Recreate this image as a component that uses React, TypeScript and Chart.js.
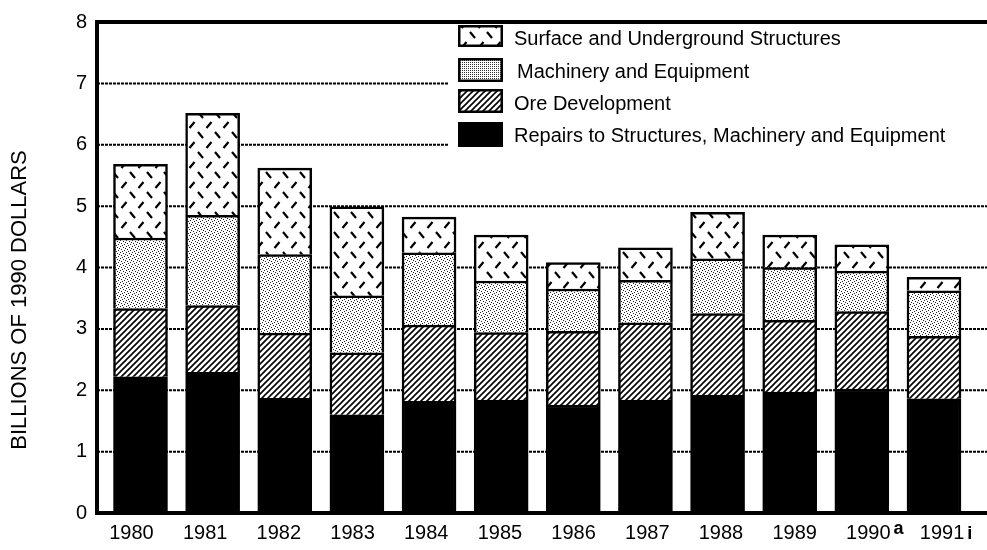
import React, { useEffect, useRef } from 'react';
import { Chart, registerables } from 'chart.js';

Chart.register(...registerables);

const years = ['1980', '1981', '1982', '1983', '1984', '1985', '1986', '1987', '1988', '1989', '1990', '1991'];
const footnotes = ['', '', '', '', '', '', '', '', '', '', 'a', 'i'];

const repairsLabel = 'Repairs to Structures, Machinery and Equipment';
const oreLabel = 'Ore Development';
const machineryLabel = 'Machinery and Equipment';
const surfaceLabel = 'Surface and Underground Structures';

const repairs = [2.22, 2.29, 1.87, 1.6, 1.82, 1.84, 1.76, 1.84, 1.92, 1.97, 2.02, 1.86];
const ore = [1.11, 1.09, 1.06, 1.01, 1.24, 1.1, 1.2, 1.26, 1.33, 1.17, 1.26, 1.02];
const machinery = [1.15, 1.47, 1.28, 0.93, 1.18, 0.84, 0.69, 0.69, 0.89, 0.86, 0.66, 0.74];
const surface = [1.2, 1.66, 1.41, 1.45, 0.58, 0.75, 0.43, 0.53, 0.76, 0.53, 0.43, 0.22];

const yTicks = [0, 1, 2, 3, 4, 5, 6, 7, 8];
const yTitle = 'BILLIONS OF 1990 DOLLARS';

const FONT = '"Liberation Sans", Arial, Helvetica, sans-serif';

function makeTile(w: number, h: number, draw: (g: CanvasRenderingContext2D) => void): CanvasPattern {
  const c = document.createElement('canvas');
  c.width = w;
  c.height = h;
  const g = c.getContext('2d') as CanvasRenderingContext2D;
  draw(g);
  return g.createPattern(c, 'repeat') as CanvasPattern;
}

export default function App() {
  const ref = useRef<HTMLCanvasElement | null>(null);

  useEffect(() => {
    const canvas = ref.current;
    if (!canvas) return;

    const hatch = makeTile(6, 6, (g) => {
      g.fillStyle = '#fff';
      g.fillRect(0, 0, 6, 6);
      g.strokeStyle = '#000';
      g.lineWidth = 1.6;
      g.beginPath();
      g.moveTo(-1, 7);
      g.lineTo(7, -1);
      g.moveTo(-1, 1);
      g.lineTo(1, -1);
      g.moveTo(5, 7);
      g.lineTo(7, 5);
      g.stroke();
    });

    const stipple = makeTile(6, 6, (g) => {
      g.fillStyle = '#fff';
      g.fillRect(0, 0, 6, 6);
      g.fillStyle = '#222';
      [[0, 0], [3, 1], [1, 3], [4, 4], [5, 2], [2, 5]].forEach(([px, py]) => g.fillRect(px, py, 1, 1));
    });

    const stippleDense = makeTile(2, 2, (g) => {
      g.fillStyle = '#fff';
      g.fillRect(0, 0, 2, 2);
      g.fillStyle = '#333';
      g.fillRect(0, 0, 1, 1);
    });

    const diamond = makeTile(17, 20, (g) => {
      g.fillStyle = '#fff';
      g.fillRect(0, 0, 17, 20);
      g.strokeStyle = '#000';
      g.lineWidth = 2.2;
      g.beginPath();
      g.moveTo(2.5, 8);
      g.lineTo(7.5, 2);
      g.moveTo(11, 12);
      g.lineTo(16, 18);
      g.stroke();
    });

    const legendItems = [
      { label: surfaceLabel, fill: diamond, y0: 25, y1: 47, ty: 39, tx: 514 },
      { label: machineryLabel, fill: stippleDense, y0: 58, y1: 82, ty: 72, tx: 517 },
      { label: oreLabel, fill: hatch, y0: 89, y1: 113, ty: 104, tx: 514 },
      { label: repairsLabel, fill: '#000', y0: 122, y1: 147, ty: 136, tx: 514 },
    ];

    const decor = {
      id: 'decor',
      beforeDatasetsDraw(chart: any) {
        const { ctx, chartArea: a, scales } = chart;
        const y = scales.y;
        ctx.save();
        ctx.strokeStyle = '#000';
        ctx.lineWidth = 2;
        ctx.setLineDash([3, 1]);
        yTicks.forEach((v) => {
          if (v === 0 || v === 8) return;
          const py = y.getPixelForValue(v);
          ctx.beginPath();
          ctx.moveTo(a.left, py);
          ctx.lineTo(a.right, py);
          ctx.stroke();
        });
        ctx.restore();

        // legend area
        ctx.save();
        ctx.fillStyle = '#fff';
        ctx.fillRect(448, a.top + 2, a.right - 448, 160 - a.top);
        legendItems.forEach((it) => {
          ctx.fillStyle = it.fill as any;
          ctx.fillRect(458, it.y0, 45, it.y1 - it.y0);
          ctx.strokeStyle = '#000';
          ctx.lineWidth = 2.5;
          ctx.strokeRect(459.25, it.y0 + 1.25, 42.5, it.y1 - it.y0 - 2.5);
          ctx.fillStyle = '#000';
          ctx.font = `20px ${FONT}`;
          ctx.textAlign = 'left';
          ctx.textBaseline = 'middle';
          ctx.fillText(it.label, it.tx, it.ty);
        });
        ctx.restore();
      },
      afterDraw(chart: any) {
        const { ctx, chartArea: a, scales } = chart;
        ctx.save();
        ctx.strokeStyle = '#000';
        ctx.lineWidth = 4;
        ctx.setLineDash([]);
        ctx.beginPath();
        // top border
        ctx.moveTo(a.left - 2, a.top);
        ctx.lineTo(a.right, a.top);
        // left axis
        ctx.moveTo(a.left, a.top - 2);
        ctx.lineTo(a.left, a.bottom + 2);
        // bottom axis
        ctx.moveTo(a.left - 2, a.bottom);
        ctx.lineTo(a.right, a.bottom);
        ctx.stroke();

        // footnote marks on year labels
        const xl = scales.xl;
        years.forEach((yr, i) => {
          const mark = footnotes[i];
          if (!mark) return;
          ctx.font = `20px ${FONT}`;
          const w = ctx.measureText(yr).width;
          const cx = xl.getPixelForValue(i);
          ctx.font = `bold 18px ${FONT}`;
          ctx.fillStyle = '#000';
          ctx.textAlign = 'left';
          ctx.textBaseline = 'alphabetic';
          const base = a.bottom + 8 + 20 * 0.905 + 1;
          ctx.fillText(mark, cx + w / 2 + 3, base - (mark === 'a' ? 6 : 1));
        });

        // y-axis title
        ctx.translate(20, 300);
        ctx.rotate(-Math.PI / 2);
        ctx.font = `22px ${FONT}`;
        ctx.fillStyle = '#000';
        ctx.textAlign = 'center';
        ctx.textBaseline = 'middle';
        ctx.fillText(yTitle, 0, 0);
        ctx.restore();
      },
    };

    const mk = (label: string, values: number[], fill: any) => ({
      label,
      data: values.map((v, i) => ({ x: i, y: v })),
      backgroundColor: fill,
      borderColor: '#000',
      borderWidth: 2.5,
      barThickness: 54,
      xAxisID: 'x',
      yAxisID: 'y',
    });

    const chart = new Chart(canvas, {
      type: 'bar',
      data: {
        datasets: [
          mk(repairsLabel, repairs, '#000'),
          mk(oreLabel, ore, hatch),
          mk(machineryLabel, machinery, stipple),
          mk(surfaceLabel, surface, diamond),
        ],
      } as any,
      options: {
        animation: false,
        responsive: false,
        maintainAspectRatio: false,
        layout: { padding: { top: 12, right: 0, left: 0, bottom: 0 } },
        plugins: {
          legend: { display: false },
          tooltip: { enabled: false },
          title: { display: false },
        },
        scales: {
          x: {
            type: 'linear',
            stacked: true,
            offset: false,
            min: -0.603,
            max: 11.735,
            position: 'bottom',
            grid: { display: false, drawTicks: false, offset: false },
            border: { display: false },
            ticks: { display: false },
            afterBuildTicks: (s: any) => {
              s.ticks = years.map((_, i) => ({ value: i }));
            },
            afterFit: (s: any) => {
              s.height = 0;
            },
          },
          xl: {
            type: 'linear',
            offset: false,
            min: -0.468,
            max: 11.61,
            position: 'bottom',
            grid: { display: false, drawTicks: false, offset: false },
            border: { display: false },
            ticks: {
              autoSkip: false,
              maxRotation: 0,
              padding: 8,
              color: '#000',
              font: { family: FONT, size: 20 },
              callback: (v: any) => years[v] ?? '',
            },
            afterBuildTicks: (s: any) => {
              s.ticks = years.map((_, i) => ({ value: i }));
            },
            afterFit: (s: any) => {
              s.height = 37;
            },
          },
          y: {
            stacked: true,
            min: 0,
            max: 8,
            grid: { display: false, drawTicks: false },
            border: { display: false },
            ticks: {
              stepSize: 1,
              padding: 10,
              color: '#000',
              font: { family: FONT, size: 20 },
            },
            afterBuildTicks: (s: any) => {
              s.ticks = yTicks.map((v) => ({ value: v }));
            },
            afterFit: (s: any) => {
              s.width = 97;
            },
          },
        } as any,
      },
      plugins: [decor],
    });

    return () => chart.destroy();
  }, []);

  return (
    <div style={{ position: 'absolute', left: 0, top: 0, width: 987, height: 550, background: '#fff' }}>
      <canvas ref={ref} width={987} height={550} style={{ display: 'block', width: 987, height: 550 }} />
    </div>
  );
}
